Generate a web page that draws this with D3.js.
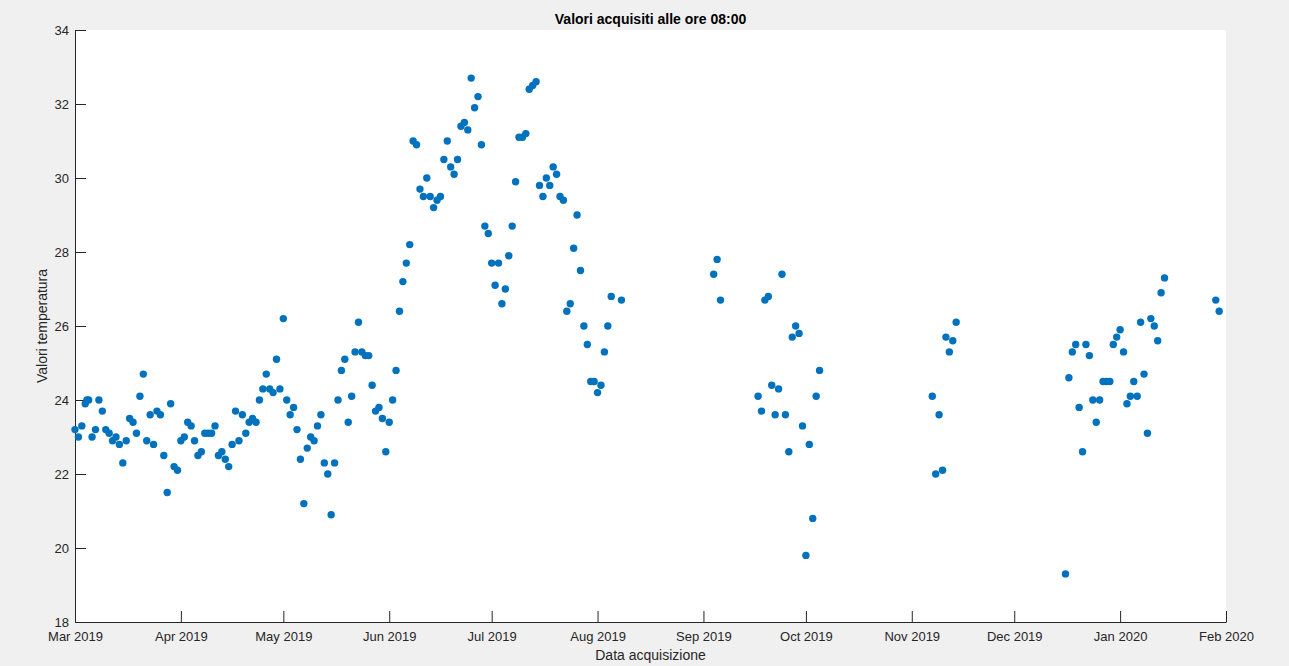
<!DOCTYPE html>
<html>
<head>
<meta charset="utf-8">
<script src="https://d3js.org/d3.v7.min.js"></script>
<style>
  html, body { margin: 0; padding: 0; background: #f0f0f0; }
  svg { display: block; font-family: "Liberation Sans", Arial, sans-serif; }
</style>
</head>
<body>
<svg id="chart"></svg>
<script>
// data (one reading per day at 08:00)
var marDates = ["2019-03-01","2019-03-02","2019-03-03","2019-03-04","2019-03-04T12:00","2019-03-05","2019-03-06","2019-03-07","2019-03-08","2019-03-09","2019-03-10","2019-03-11","2019-03-12","2019-03-13","2019-03-14","2019-03-15","2019-03-16","2019-03-17","2019-03-18","2019-03-19","2019-03-20","2019-03-21","2019-03-22","2019-03-23","2019-03-24","2019-03-25","2019-03-26","2019-03-27","2019-03-28","2019-03-29","2019-03-30","2019-03-31"];
var marTemps = [23.2,23.0,23.3,23.9,24.0,24.0,23.0,23.2,24.0,23.7,23.2,23.1,22.9,23.0,22.8,22.3,22.9,23.5,23.4,23.1,24.1,24.7,22.9,23.6,22.8,23.7,23.6,22.5,21.5,23.9,22.2,22.1];

var aprDates = ["2019-04-01","2019-04-02","2019-04-03","2019-04-04","2019-04-05","2019-04-06","2019-04-07","2019-04-08","2019-04-09","2019-04-10","2019-04-11","2019-04-12","2019-04-13","2019-04-14","2019-04-15","2019-04-16","2019-04-17","2019-04-18","2019-04-19","2019-04-20","2019-04-21","2019-04-22","2019-04-23","2019-04-24","2019-04-25","2019-04-26","2019-04-27","2019-04-28","2019-04-29","2019-04-30"];
var aprTemps = [22.9,23.0,23.4,23.3,22.9,22.5,22.6,23.1,23.1,23.1,23.3,22.5,22.6,22.4,22.2,22.8,23.7,22.9,23.6,23.1,23.4,23.5,23.4,24.0,24.3,24.7,24.3,24.2,25.1,24.3];

var mayDates = ["2019-05-01","2019-05-02","2019-05-03","2019-05-04","2019-05-05","2019-05-06","2019-05-07","2019-05-08","2019-05-09","2019-05-10","2019-05-11","2019-05-12","2019-05-13","2019-05-14","2019-05-15","2019-05-16","2019-05-17","2019-05-18","2019-05-19","2019-05-20","2019-05-21","2019-05-22","2019-05-23","2019-05-24","2019-05-25","2019-05-26","2019-05-27","2019-05-28","2019-05-29","2019-05-30","2019-05-31"];
var mayTemps = [26.2,24.0,23.6,23.8,23.2,22.4,21.2,22.7,23.0,22.9,23.3,23.6,22.3,22.0,20.9,22.3,24.0,24.8,25.1,23.4,24.1,25.3,26.1,25.3,25.2,25.2,24.4,23.7,23.8,23.5,22.6];

var junDates = ["2019-06-01","2019-06-02","2019-06-03","2019-06-04","2019-06-05","2019-06-06","2019-06-07","2019-06-08","2019-06-09","2019-06-10","2019-06-11","2019-06-12","2019-06-13","2019-06-14","2019-06-15","2019-06-16","2019-06-17","2019-06-18","2019-06-19","2019-06-20","2019-06-21","2019-06-22","2019-06-23","2019-06-24","2019-06-25","2019-06-26","2019-06-27","2019-06-28","2019-06-29","2019-06-30"];
var junTemps = [23.4,24.0,24.8,26.4,27.2,27.7,28.2,31.0,30.9,29.7,29.5,30.0,29.5,29.2,29.4,29.5,30.5,31.0,30.3,30.1,30.5,31.4,31.5,31.3,32.7,31.9,32.2,30.9,28.7,28.5];

var julDates = ["2019-07-01","2019-07-02","2019-07-03","2019-07-04","2019-07-05","2019-07-06","2019-07-07","2019-07-08","2019-07-09","2019-07-10","2019-07-11","2019-07-12","2019-07-13","2019-07-14","2019-07-15","2019-07-16","2019-07-17","2019-07-18","2019-07-19","2019-07-20","2019-07-21","2019-07-22","2019-07-23","2019-07-24","2019-07-25","2019-07-26","2019-07-27","2019-07-28","2019-07-29","2019-07-30","2019-07-31"];
var julTemps = [27.7,27.1,27.7,26.6,27.0,27.9,28.7,29.9,31.1,31.1,31.2,32.4,32.5,32.6,29.8,29.5,30.0,29.8,30.3,30.1,29.5,29.4,26.4,26.6,28.1,29.0,27.5,26.0,25.5,24.5,24.5];

var augOctDates = ["2019-08-01","2019-08-02","2019-08-03","2019-08-04","2019-08-05","2019-08-08","2019-09-04","2019-09-05","2019-09-06","2019-09-17","2019-09-18","2019-09-19","2019-09-20","2019-09-21","2019-09-22","2019-09-23","2019-09-24","2019-09-25","2019-09-26","2019-09-27","2019-09-28","2019-09-29","2019-09-30","2019-10-01","2019-10-02","2019-10-03","2019-10-04","2019-10-05"];
var augOctTemps = [24.2,24.4,25.3,26.0,26.8,26.7,27.4,27.8,26.7,24.1,23.7,26.7,26.8,24.4,23.6,24.3,27.4,23.6,22.6,25.7,26.0,25.8,23.3,19.8,22.8,20.8,24.1,24.8];

var novJanDates = ["2019-11-07","2019-11-08","2019-11-09","2019-11-10","2019-11-11","2019-11-12","2019-11-13","2019-11-14","2019-12-16","2019-12-17","2019-12-18","2019-12-19","2019-12-20","2019-12-21","2019-12-22","2019-12-23","2019-12-24","2019-12-25","2019-12-26","2019-12-27","2019-12-28","2019-12-29","2019-12-30","2019-12-31","2020-01-01","2020-01-02","2020-01-03","2020-01-04","2020-01-05","2020-01-06","2020-01-07","2020-01-08","2020-01-09","2020-01-10","2020-01-11","2020-01-12","2020-01-13","2020-01-14","2020-01-29","2020-01-30"];
var novJanTemps = [24.1,22.0,23.6,22.1,25.7,25.3,25.6,26.1,19.3,24.6,25.3,25.5,23.8,22.6,25.5,25.2,24.0,23.4,24.0,24.5,24.5,24.5,25.5,25.7,25.9,25.3,23.9,24.1,24.5,24.1,26.1,24.7,23.1,26.2,26.0,25.6,26.9,27.3,26.7,26.4];

var yTicks = [18, 20, 22, 24, 26, 28, 30, 32, 34];

var width = 1289;
var height = 666;
var margin = { top: 30, right: 63, bottom: 44, left: 75 };
var pw = width - margin.left - margin.right;
var ph = height - margin.top - margin.bottom;
var axisColor = "#262626";

var parse = d3.utcParse("%Y-%m-%d");
var parseT = d3.utcParse("%Y-%m-%dT%H:%M");
function toDate(s) { return s.length > 10 ? parseT(s) : parse(s); }

var allDates = marDates.concat(aprDates, mayDates, junDates, julDates, augOctDates, novJanDates);
var allTemps = marTemps.concat(aprTemps, mayTemps, junTemps, julTemps, augOctTemps, novJanTemps);
var points = allDates.map(function (d, i) {
  return { date: toDate(d), value: allTemps[i] };
});

var svg = d3.select("#chart").attr("width", width).attr("height", height);

// plot background
svg.append("rect")
  .attr("x", margin.left).attr("y", margin.top)
  .attr("width", pw).attr("height", ph)
  .attr("fill", "#ffffff");

var xs = d3.scaleUtc()
  .domain([parse("2019-03-01"), parse("2020-02-01")])
  .range([0, pw]);

var ys = d3.scaleLinear()
  .domain([18, 34])
  .range([ph, 0]);

var g = svg.append("g")
  .attr("transform", "translate(" + margin.left + "," + margin.top + ")");

// x axis
var xAxis = g.append("g")
  .attr("transform", "translate(0," + ph + ")")
  .call(d3.axisBottom(xs)
    .ticks(d3.utcMonth.every(1))
    .tickFormat(d3.utcFormat("%b %Y"))
    .tickSizeInner(-11)
    .tickSizeOuter(0)
    .tickPadding(10));

// y axis
var yAxis = g.append("g")
  .call(d3.axisLeft(ys)
    .tickValues(yTicks)
    .tickFormat(d3.format("d"))
    .tickSizeInner(-11)
    .tickSizeOuter(0)
    .tickPadding(6));

[xAxis, yAxis].forEach(function (a) {
  a.select(".domain").attr("stroke", axisColor);
  a.selectAll(".tick line").attr("stroke", axisColor);
  a.selectAll(".tick text")
    .attr("fill", axisColor)
    .style("font-size", "13px");
});

// points
g.append("g")
  .selectAll("circle")
  .data(points)
  .enter()
  .append("circle")
  .attr("cx", function (d) { return xs(d.date); })
  .attr("cy", function (d) { return ys(d.value); })
  .attr("r", 3.7)
  .attr("fill", "#0072BD");

// title
svg.append("text")
  .attr("x", margin.left + pw / 2)
  .attr("y", 24)
  .attr("text-anchor", "middle")
  .style("font-size", "14px")
  .style("font-weight", "bold")
  .attr("fill", "#000")
  .text("Valori acquisiti alle ore 08:00");

// x label
svg.append("text")
  .attr("x", margin.left + pw / 2)
  .attr("y", 660)
  .attr("text-anchor", "middle")
  .style("font-size", "14px")
  .attr("fill", axisColor)
  .text("Data acquisizione");

// y label
svg.append("text")
  .attr("transform", "translate(47," + (margin.top + ph / 2) + ") rotate(-90)")
  .attr("text-anchor", "middle")
  .style("font-size", "14px")
  .attr("fill", axisColor)
  .text("Valori temperatura");
</script>
</body>
</html>
